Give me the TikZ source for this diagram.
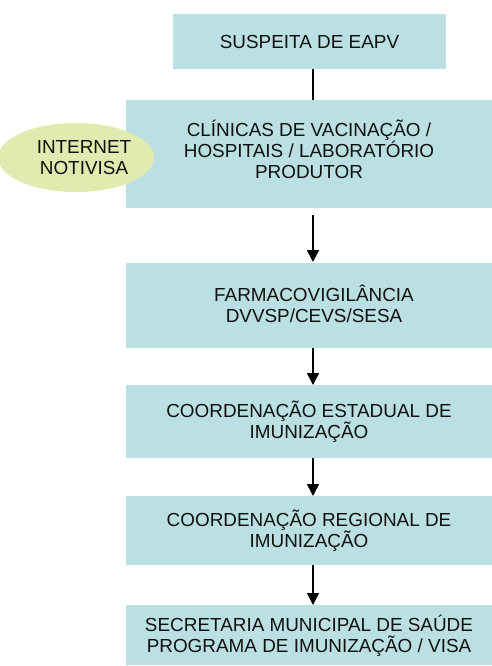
\documentclass[tikz,border=0pt]{standalone}
\usepackage{fontspec}
\setmainfont{Liberation Sans}
\usetikzlibrary{arrows.meta,shapes.geometric}
\definecolor{boxfill}{HTML}{BAE0E3}
\definecolor{ellfill}{HTML}{E1EBAF}
\definecolor{txt}{HTML}{111111}
\tikzset{
  flowbox/.style={rectangle, fill=boxfill, draw=none, inner sep=0pt, outer sep=0pt,
    align=center, text=txt, font=\fontsize{18.9}{21}\selectfont,
    text height=34.5pt, text depth=0pt},
  oval/.style={ellipse, fill=ellfill, draw=none, inner sep=0pt, outer sep=0pt,
    minimum width=132pt, minimum height=69pt, align=center, text=txt,
    font=\fontsize{18.9}{21}\selectfont, text height=34.5pt, text depth=0pt},
  link/.style={line width=1.5pt, draw=black},
  flowarrow/.style={link, -{Triangle[width=12pt,length=12pt]}}
}
\begin{document}
\begin{tikzpicture}[x=1pt,y=-1pt]
\useasboundingbox (0,0) rectangle (492,666);
\node[flowbox, minimum width=273pt, minimum height=55pt, text height=13.5pt] (b1) at (309.5,41.5) {SUSPEITA DE EAPV};
\node[flowbox, minimum width=366pt, minimum height=108pt, text height=55.5pt, text depth=7pt] (b2) at (309,154) {CLÍNICAS DE VACINAÇÃO /\\HOSPITAIS / LABORATÓRIO\\PRODUTOR};
\node[flowbox, minimum width=366pt, minimum height=85pt] (b3) at (309,305.5) {\hspace*{10pt}FARMACOVIGILÂNCIA\\\hspace*{10pt}DVVSP/CEVS/SESA};
\node[flowbox, minimum width=366pt, minimum height=73pt] (b4) at (309,421.5) {COORDENAÇÃO ESTADUAL DE\\IMUNIZAÇÃO};
\node[flowbox, minimum width=366pt, minimum height=69pt] (b5) at (309,530.5) {COORDENAÇÃO REGIONAL DE\\IMUNIZAÇÃO};
\node[flowbox, minimum width=366pt, minimum height=60pt] (b6) at (309,635) {SECRETARIA MUNICIPAL DE SAÚDE\\PROGRAMA DE IMUNIZAÇÃO / VISA};
\node[oval] (e) at (76,157.5) {\hspace*{16pt}INTERNET\\\hspace*{16pt}NOTIVISA};
\draw[link] ([xshift=3.5pt]b1.south) -- ([xshift=4pt]b2.north);
\draw[flowarrow] ([xshift=4pt,yshift=-7pt]b2.south) -- ([xshift=4pt,yshift=1pt]b3.north);
\draw[flowarrow] ([xshift=4pt]b3.south) -- ([xshift=4pt]b4.north);
\draw[flowarrow] ([xshift=4pt]b4.south) -- ([xshift=4pt]b5.north);
\draw[flowarrow] ([xshift=4pt]b5.south) -- ([xshift=4pt]b6.north);
\end{tikzpicture}
\end{document}
